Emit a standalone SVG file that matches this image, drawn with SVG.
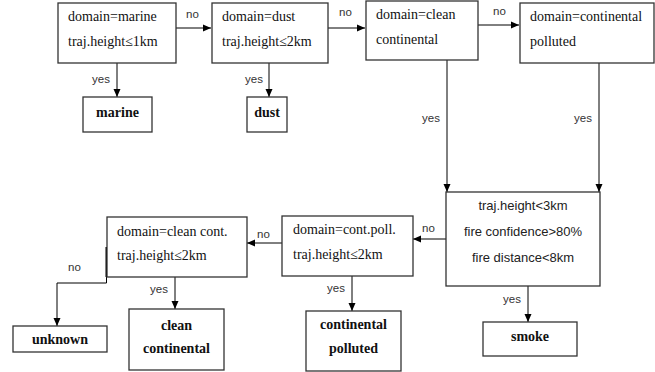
<svg xmlns="http://www.w3.org/2000/svg" width="655" height="372" viewBox="0 0 655 372">
<defs>
<marker id="ah" viewBox="0 0 8 8" refX="8" refY="4" markerWidth="8" markerHeight="8" markerUnits="userSpaceOnUse" orient="auto">
<path d="M0,0.5 L8,4 L0,7.5 Z" fill="#000"/>
</marker>
<style>
.box{fill:#fff;stroke:#333;stroke-width:1.3}
.t{font-family:"Liberation Serif","Times New Roman",serif;font-size:14px;fill:#111}
.b{font-family:"Liberation Serif","Times New Roman",serif;font-size:14px;font-weight:bold;fill:#111;text-anchor:middle}
.s{font-family:"Liberation Sans",Arial,sans-serif;font-size:13px;fill:#222;text-anchor:middle}
.l{font-family:"Liberation Sans",Arial,sans-serif;font-size:11.5px;fill:#333}
.c{fill:none;stroke:#000;stroke-width:1}
</style>
</defs>
<rect width="655" height="372" fill="#fff"/>
<g id="connectors">
<line class="c" x1="176" y1="28" x2="211" y2="28" marker-end="url(#ah)"/>
<line class="c" x1="328" y1="28" x2="365" y2="28" marker-end="url(#ah)"/>
<line class="c" x1="478" y1="25" x2="519" y2="25" marker-end="url(#ah)"/>
<line class="c" x1="117" y1="63" x2="117" y2="97" marker-end="url(#ah)"/>
<line class="c" x1="269" y1="63" x2="269" y2="97" marker-end="url(#ah)"/>
<line class="c" x1="447" y1="60" x2="447" y2="192" marker-end="url(#ah)"/>
<line class="c" x1="599" y1="63" x2="599" y2="192" marker-end="url(#ah)"/>
<line class="c" x1="446" y1="239" x2="413" y2="239" marker-end="url(#ah)"/>
<line class="c" x1="282" y1="243" x2="247" y2="243" marker-end="url(#ah)"/>
<line class="c" x1="352" y1="276" x2="352" y2="311" marker-end="url(#ah)"/>
<line class="c" x1="528" y1="286" x2="528" y2="322" marker-end="url(#ah)"/>
<line class="c" x1="175" y1="277" x2="175" y2="309" marker-end="url(#ah)"/>
<polyline class="c" points="106.5,247 106.5,283 57,283 57,326" marker-end="url(#ah)"/>
<line x1="106.5" y1="247" x2="106.5" y2="277" stroke="#000" stroke-width="2"/>
<text class="l" x="186" y="18">no</text>
<text class="l" x="339" y="16">no</text>
<text class="l" x="493" y="15">no</text>
<text class="l" x="92" y="83">yes</text>
<text class="l" x="245" y="83">yes</text>
<text class="l" x="422" y="122">yes</text>
<text class="l" x="574" y="122">yes</text>
<text class="l" x="422" y="232">no</text>
<text class="l" x="327" y="292">yes</text>
<text class="l" x="503" y="303">yes</text>
<text class="l" x="257" y="238">no</text>
<text class="l" x="68" y="271">no</text>
<text class="l" x="150" y="293">yes</text>
</g>
<g id="n_marine_q">
<rect class="box" x="58" y="3" width="118" height="60"/>
<text class="t" x="68" y="21">domain=marine</text>
<text class="t" x="68" y="46">traj.height≤1km</text>
</g>
<g id="n_dust_q">
<rect class="box" x="212" y="3" width="116" height="60"/>
<text class="t" x="222" y="21">domain=dust</text>
<text class="t" x="222" y="46">traj.height≤2km</text>
</g>
<g id="n_clean_q">
<rect class="box" x="366" y="1" width="112" height="59"/>
<text class="t" x="376" y="19">domain=clean</text>
<text class="t" x="376" y="44">continental</text>
</g>
<g id="n_poll_q">
<rect class="box" x="520" y="3" width="134" height="60"/>
<text class="t" x="530" y="21">domain=continental</text>
<text class="t" x="530" y="46">polluted</text>
</g>
<g id="n_marine">
<rect class="box" x="83" y="97" width="69" height="35"/>
<text class="b" x="117.5" y="117">marine</text>
</g>
<g id="n_dust">
<rect class="box" x="247" y="97" width="40" height="35"/>
<text class="b" x="267" y="117">dust</text>
</g>
<g id="n_fire_q">
<rect class="box" x="446" y="192" width="154" height="94"/>
<text class="s" x="523" y="210">traj.height&lt;3km</text>
<text class="s" x="523" y="236">fire confidence&gt;80%</text>
<text class="s" x="523" y="262">fire distance&lt;8km</text>
</g>
<g id="n_contpoll_q">
<rect class="box" x="282" y="216" width="131" height="60"/>
<text class="t" x="293" y="234">domain=cont.poll.</text>
<text class="t" x="293" y="259">traj.height≤2km</text>
</g>
<g id="n_cleancont_q">
<rect class="box" x="107" y="217" width="140" height="60"/>
<text class="t" x="117" y="236">domain=clean cont.</text>
<text class="t" x="117" y="260">traj.height≤2km</text>
</g>
<g id="n_unknown">
<rect class="box" x="13" y="326" width="94" height="26"/>
<text class="b" x="60" y="344">unknown</text>
</g>
<g id="n_clean">
<rect class="box" x="129" y="309" width="95" height="61"/>
<text class="b" x="176.5" y="330">clean</text>
<text class="b" x="176.5" y="353">continental</text>
</g>
<g id="n_polluted">
<rect class="box" x="306" y="311" width="95" height="60"/>
<text class="b" x="353.5" y="329">continental</text>
<text class="b" x="353.5" y="353">polluted</text>
</g>
<g id="n_smoke">
<rect class="box" x="483" y="322" width="94" height="34"/>
<text class="b" x="530" y="341">smoke</text>
</g>
</svg>
